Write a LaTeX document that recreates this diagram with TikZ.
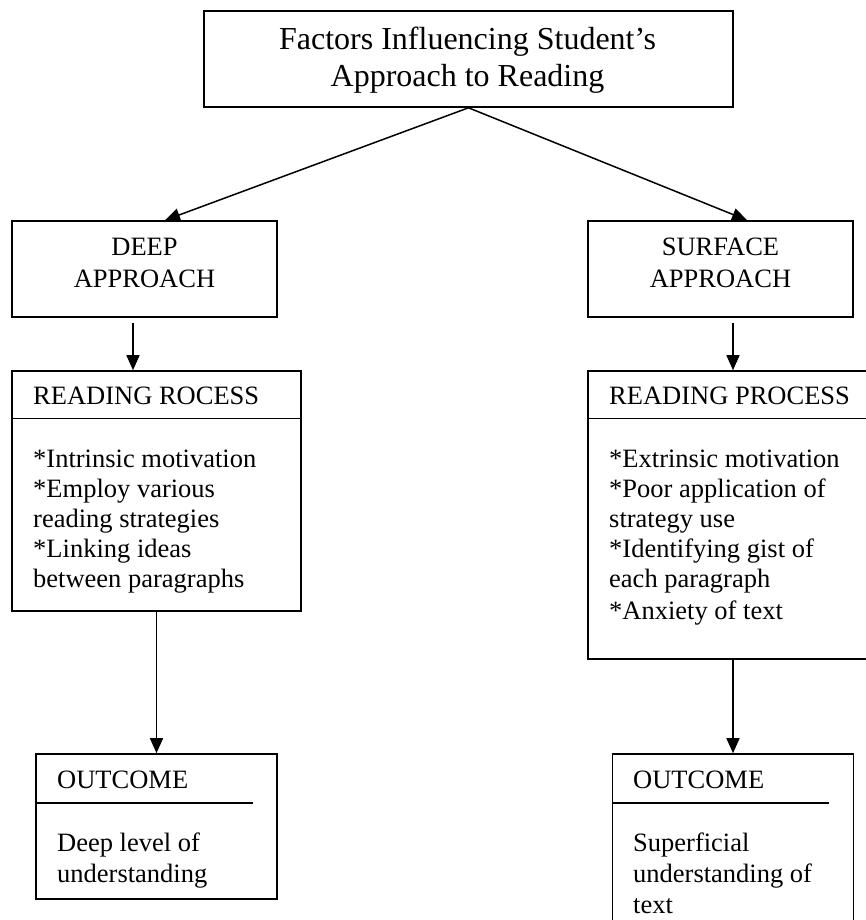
\documentclass[tikz,border=0pt]{standalone}
\usepackage{fontspec}
\setmainfont{Liberation Serif}
\usetikzlibrary{arrows.meta,calc}
\begin{document}
\begin{tikzpicture}[x=1pt,y=-1pt,
  box/.style={draw=black,line width=1.6pt,inner sep=0pt,rectangle},
  arr/.style={draw=black,line width=1.5pt,-{Triangle[length=15pt,width=13pt]}},
  rule/.style={draw=black,line width=1.6pt},
  big/.style={inner sep=0pt,anchor=base,font=\fontsize{32}{37}\selectfont},
  mid/.style={inner sep=0pt,anchor=base,font=\fontsize{26.5}{30.5}\selectfont},
  txt/.style={inner sep=0pt,anchor=base west,font=\fontsize{26.5}{30.5}\selectfont}]
\clip (0,0) rectangle (866,920);
\fill[white] (0,0) rectangle (866,920);

% boxes
\node[box,minimum width=529pt,minimum height=96pt] (top) at (468.5,59) {};
\node[box,minimum width=265pt,minimum height=96pt] (deep) at (144.5,269) {};
\node[box,minimum width=265pt,minimum height=96pt] (surf) at (720.5,269) {};
\node[box,minimum width=289pt,minimum height=240pt] (rpL) at (156.5,491) {};
\node[box,minimum width=290pt,minimum height=288pt] (rpR) at (733,515) {};
\node[box,minimum width=241pt,minimum height=145pt] (outL) at (156.5,826.5) {};
\node[box,minimum width=241pt,minimum height=181pt] (outR) at (733,844.5) {};

% header rules
\draw[rule] (rpL.west |- 0,418.5) -- (rpL.east |- 0,418.5);
\draw[rule] (rpR.west |- 0,418.5) -- (rpR.east |- 0,418.5);
\draw[rule] (outL.west |- 0,803) -- (253,803);
\draw[rule] (outR.west |- 0,803) -- (829,803);

% texts
\node[big] (t1) at (467.5,50) {Factors Influencing Student’s};
\node[big] (t2) at (467.5,87) {Approach to Reading};
\node[mid] (d1) at (144.5,255) {DEEP};
\node[mid] (d2) at (144.5,287) {APPROACH};
\node[mid] (s1) at (720.5,255) {SURFACE};
\node[mid] (s2) at (720.5,287) {APPROACH};

\node[txt] (hL) at (33,404) {READING ROCESS};
\node[txt] (l1) at (33,467) {*Intrinsic motivation};
\node[txt] (l2) at (33,497) {*Employ various};
\node[txt] (l3) at (33,527) {reading strategies};
\node[txt] (l4) at (33,557) {*Linking ideas};
\node[txt] (l5) at (33,587) {between paragraphs};

\node[txt] (hR) at (609,404) {READING PROCESS};
\node[txt] (r1) at (609,467) {*Extrinsic motivation};
\node[txt] (r2) at (609,497) {*Poor application of};
\node[txt] (r3) at (609,527) {strategy use};
\node[txt] (r4) at (609,557) {*Identifying gist of};
\node[txt] (r5) at (609,587) {each paragraph};
\node[txt] (r6) at (609,619) {*Anxiety of text};

\node[txt] (oL) at (57,788) {OUTCOME};
\node[txt] (oL1) at (57,851) {Deep level of};
\node[txt] (oL2) at (57,882) {understanding};

\node[txt] (oR) at (633,788) {OUTCOME};
\node[txt] (oR1) at (633,851) {Superficial};
\node[txt] (oR2) at (633,882) {understanding of};
\node[txt] (oR3) at (633,913) {text};

% connectors
\draw[arr] (top.south) -- ($(deep.north)+(20.5,0)$);
\draw[arr] (top.south) -- ($(surf.north)+(26.5,0)$);
\draw[arr] ($(deep.south)+(-11.5,5)$) -- ($(rpL.north)+(-23.5,0)$);
\draw[arr] ($(surf.south)+(12.5,5)$) -- (rpR.north);
\draw[arr] (rpL.south) -- (outL.north);
\draw[arr] (rpR.south) -- (outR.north);
\end{tikzpicture}
\end{document}
